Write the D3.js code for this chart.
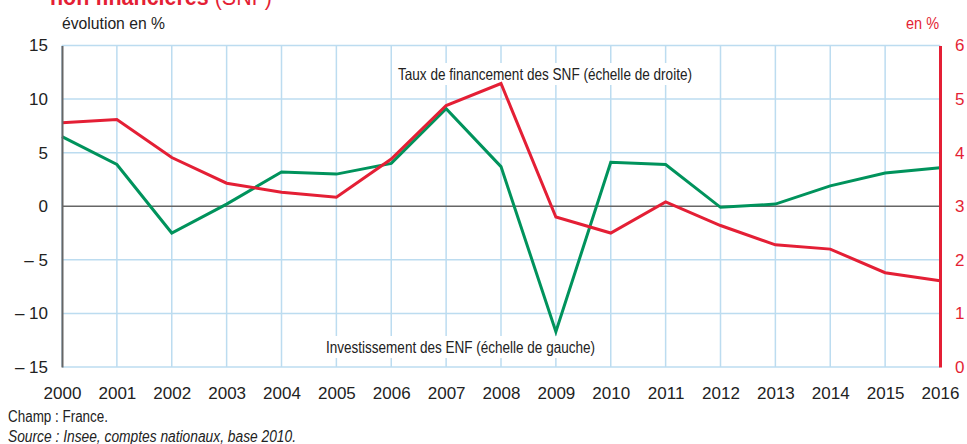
<!DOCTYPE html>
<html>
<head>
<meta charset="utf-8">
<script src="https://cdn.jsdelivr.net/npm/d3@7"></script>
<style>
  body { margin: 0; background: #fff; }
  svg { display: block; font-family: "Liberation Sans", Arial, sans-serif; }
</style>
</head>
<body>
<div class="chart"></div>
<script>
const WIDTH = 967;
const HEIGHT = 444;

const years = [2000, 2001, 2002, 2003, 2004, 2005, 2006, 2007, 2008, 2009, 2010, 2011, 2012, 2013, 2014, 2015, 2016];
// Investissement des ENF, évolution en % (échelle de gauche)
const investissement = [6.5, 3.9, -2.5, 0.2, 3.2, 3.0, 4.0, 9.1, 3.7, -11.7, 4.1, 3.9, -0.1, 0.2, 1.9, 3.1, 3.6];
// Taux de financement des SNF, en % (échelle de droite)
const tauxFinancement = [4.56, 4.62, 3.91, 3.43, 3.26, 3.17, 3.88, 4.88, 5.29, 2.8, 2.5, 3.08, 2.64, 2.28, 2.2, 1.76, 1.61];

const leftTicks = [15, 10, 5, 0, -5, -10, -15];
const rightTicks = [6, 5, 4, 3, 2, 1, 0];

const GREEN = "#00935c";
const RED = "#e41f35";
const GRID = "#bcdcf0";
const INK = "#222";

const margin = { top: 45.5, bottom: 77, left: 62, right: 27 };
const width = WIDTH - margin.left - margin.right;
const height = HEIGHT - margin.top - margin.bottom;

const svg = d3.select(".chart")
  .append("svg")
  .attr("width", WIDTH)
  .attr("height", HEIGHT);

const x = d3.scaleLinear().domain([2000, 2016]).range([margin.left, margin.left + width]);
const yLeft = d3.scaleLinear().domain([-15, 15]).range([margin.top + height, margin.top]);
const yRight = d3.scaleLinear().domain([0, 6]).range([margin.top + height, margin.top]);

// narrow text: the original uses a condensed face, squeeze to its width
const narrowText = (sel, w) => sel.attr("textLength", w).attr("lengthAdjust", "spacingAndGlyphs");

// title, cut at the top of the picture
const title = svg.append("text")
  .attr("x", 50).attr("y", 5)
  .attr("fill", RED).attr("font-size", "24px")
  .call(narrowText, 222);
title.append("tspan").attr("font-weight", "bold").text("non financières ");
title.append("tspan").text("(SNF)");

// grid
svg.append("g")
  .selectAll("line")
  .data(years)
  .join("line")
  .attr("x1", (d) => x(d)).attr("x2", (d) => x(d))
  .attr("y1", margin.top).attr("y2", margin.top + height)
  .attr("stroke", GRID)
  .attr("stroke-width", 1.5);

svg.append("g")
  .selectAll("line")
  .data(leftTicks.filter((d) => d !== 0))
  .join("line")
  .attr("x1", margin.left).attr("x2", margin.left + width)
  .attr("y1", (d) => yLeft(d)).attr("y2", (d) => yLeft(d))
  .attr("stroke", GRID)
  .attr("stroke-width", 1.5);

// zero line
svg.append("line")
  .attr("x1", margin.left).attr("x2", margin.left + width)
  .attr("y1", yLeft(0)).attr("y2", yLeft(0))
  .attr("stroke", "#666")
  .attr("stroke-width", 1.5);

// series labels with a white box behind
const labels = [
  { text: "Taux de financement des SNF (échelle de droite)", x: 398, y: 80, w: 294 },
  { text: "Investissement des ENF (échelle de gauche)", x: 326, y: 353, w: 269 },
];

labels.forEach((l) => {
  const g = svg.append("g");
  g.append("rect")
    .attr("x", l.x - 5)
    .attr("y", l.y - 17)
    .attr("width", l.w + 10)
    .attr("height", 22)
    .attr("fill", "#fff");
  g.append("text")
    .attr("x", l.x)
    .attr("y", l.y)
    .attr("font-size", "16.5px")
    .attr("fill", INK)
    .call(narrowText, l.w)
    .text(l.text);
});

// lines
const lineLeft = d3.line().x((d, i) => x(years[i])).y((d) => yLeft(d));
const lineRight = d3.line().x((d, i) => x(years[i])).y((d) => yRight(d));

svg.append("path")
  .datum(investissement)
  .attr("d", lineLeft)
  .attr("fill", "none")
  .attr("stroke", GREEN)
  .attr("stroke-width", 3);

svg.append("path")
  .datum(tauxFinancement)
  .attr("d", lineRight)
  .attr("fill", "none")
  .attr("stroke", RED)
  .attr("stroke-width", 3);

// axes
const leftAxis = svg.append("g")
  .attr("transform", `translate(${margin.left},0)`)
  .call(d3.axisLeft(yLeft).tickValues(leftTicks).tickSize(0).tickPadding(14)
    .tickFormat((d) => (d < 0 ? "– " + Math.abs(d) : d)));
leftAxis.select(".domain").attr("stroke", "#666").attr("stroke-width", 2);
leftAxis.selectAll("text").attr("font-size", "17px").attr("fill", INK).attr("font-family", null);

const rightAxis = svg.append("g")
  .attr("transform", `translate(${margin.left + width},0)`)
  .call(d3.axisRight(yRight).tickValues(rightTicks).tickSize(0).tickPadding(15).tickFormat(d3.format("d")));
rightAxis.select(".domain").attr("stroke", RED).attr("stroke-width", 3);
rightAxis.selectAll("text").attr("font-size", "17px").attr("fill", RED).attr("font-family", null);

const bottomAxis = svg.append("g")
  .attr("transform", `translate(0,${margin.top + height})`)
  .call(d3.axisBottom(x).tickValues(years).tickSize(0).tickPadding(20).tickFormat(d3.format("d")));
bottomAxis.select(".domain").remove();
bottomAxis.selectAll("text").attr("font-size", "17px").attr("fill", INK).attr("font-family", null);

// unit labels
svg.append("text")
  .attr("x", 62).attr("y", 29)
  .attr("font-size", "16px").attr("fill", INK)
  .call(narrowText, 103)
  .text("évolution en %");

svg.append("text")
  .attr("x", 906).attr("y", 29)
  .attr("font-size", "16px").attr("fill", RED)
  .call(narrowText, 33)
  .text("en %");

// footer
svg.append("text")
  .attr("x", 8).attr("y", 422)
  .attr("font-size", "16px").attr("fill", INK)
  .call(narrowText, 100)
  .text("Champ : France.");

svg.append("text")
  .attr("x", 8).attr("y", 442)
  .attr("font-size", "16px").attr("font-style", "italic").attr("fill", INK)
  .call(narrowText, 288)
  .text("Source : Insee, comptes nationaux, base 2010.");
</script>
</body>
</html>
